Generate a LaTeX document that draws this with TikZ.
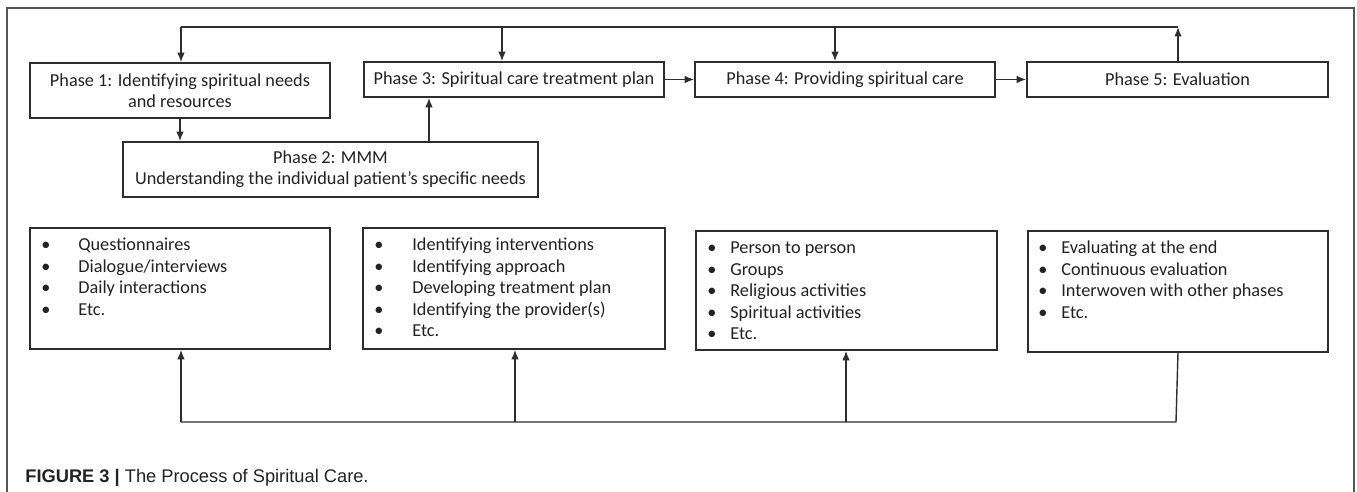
\documentclass[tikz,border=0pt]{standalone}
\usepackage{fontspec}
\setmainfont{Carlito}
\newfontfamily\capfont{Liberation Sans}
\usetikzlibrary{arrows.meta}
\definecolor{lc}{HTML}{2E2E2E}
\definecolor{tc}{HTML}{222222}
\definecolor{fc}{HTML}{555555}
\tikzset{
  phbox/.style={draw=lc, line width=0.9pt, inner sep=0pt, align=center, text=tc,
    font=\fontsize{10.4}{12.2}\selectfont},
  lbox/.style={draw=lc, line width=0.9pt, inner sep=0pt},
  ltext/.style={anchor=north west, inner sep=0pt, align=left, text=tc,
    font=\fontsize{10.4}{12.3}\selectfont},
  conn/.style={draw=lc, line width=0.8pt},
  arr/.style={conn, -{Latex[length=1.9mm,width=1.5mm]}},
}
\newcommand{\itm}[2]{\strut\makebox[#1][l]{\textbullet}#2}
\begin{document}
\begin{tikzpicture}[x=0.02cm, y=-0.02cm]
\useasboundingbox (0,0) rectangle (1357,492);
% frame
\draw[fc, line width=0.7pt] (7,492) -- (7,8) -- (1354,8) -- (1354,492);

% phase boxes
\node[phbox, minimum width=6cm, minimum height=1.1cm] (P1) at (180,90.5)
  {Phase 1: Identifying spiritual needs\\and resources};
\node[phbox, minimum width=6cm, minimum height=0.7cm] (P3) at (514,79.5)
  {Phase 3: Spiritual care treatment plan};
\node[phbox, minimum width=8.3cm, minimum height=1.1cm] (P2) at (330.5,169.5)
  {Phase 2: MMM\\Understanding the individual patient’s specific needs};
\node[phbox, minimum width=6cm, minimum height=0.7cm] (P4) at (845,79.5)
  {Phase 4: Providing spiritual care};
\node[phbox, minimum width=6.02cm, minimum height=0.7cm] (P5) at (1177.5,79.5)
  {Phase 5: Evaluation};

% list boxes
\node[lbox, minimum width=6cm, minimum height=2.42cm] (B1) at (180,288.5) {};
\node[lbox, minimum width=6.04cm, minimum height=2.42cm] (B2) at (514,288.5) {};
\node[lbox, minimum width=6.02cm, minimum height=2.38cm] (B3) at (846.5,290.5) {};
\node[lbox, minimum width=6cm, minimum height=2.42cm] (B4) at (1178,291.5) {};

\node[ltext] (T1) at (41,235) {\itm{0.74cm}{Questionnaires}\\\itm{0.74cm}{Dialogue/interviews}\\\itm{0.74cm}{Daily interactions}\\\itm{0.74cm}{Etc.}};
\node[ltext] (T2) at (374,235) {\itm{0.76cm}{Identifying interventions}\\\itm{0.76cm}{Identifying approach}\\\itm{0.76cm}{Developing treatment plan}\\\itm{0.76cm}{Identifying the provider(s)}\\\itm{0.76cm}{Etc.}};
\node[ltext] (T3) at (707,238) {\itm{0.46cm}{Person to person}\\\itm{0.46cm}{Groups}\\\itm{0.46cm}{Religious activities}\\\itm{0.46cm}{Spiritual activities}\\\itm{0.46cm}{Etc.}};
\node[ltext] (T4) at (1038,238) {\itm{0.46cm}{Evaluating at the end}\\\itm{0.46cm}{Continuous evaluation}\\\itm{0.46cm}{Interwoven with other phases}\\\itm{0.46cm}{Etc.}};

% top connectors
\coordinate (t1) at (181,27);
\coordinate (t3) at (502,27);
\coordinate (t4) at (835,27);
\coordinate (t5) at (1178,27);
\draw[arr] (P5.north -| t5) -- (t5);
\draw[conn] (t5) -- (t1);
\draw[arr] (t1) -- (t1 |- P1.north);
\draw[arr] (t3) -- (t3 |- P3.north);
\draw[arr] (t4) -- (t4 |- P4.north);
\draw[arr] (P1.south) -- (P1.south |- P2.north);
\coordinate (c23) at (429,0);
\draw[arr] (c23 |- P2.north) -- (c23 |- P3.south);
\draw[arr] (P3.east) -- (P4.west);
\draw[arr] (P4.east) -- (P5.west);

% bottom connectors
\coordinate (b1) at (181,422);
\coordinate (b2) at (515,422);
\coordinate (b3) at (846,422);
\coordinate (b4) at (1176,422);
\draw[conn] (B4.south) -- (b4) -- (b1);
\draw[arr] (b1) -- (b1 |- B1.south);
\draw[arr] (b2) -- (b2 |- B2.south);
\draw[arr] (b3) -- (b3 |- B3.south);

% caption
\node[anchor=base west, inner sep=0pt, text=tc, font=\capfont\fontsize{10.4}{12}\selectfont] (cap) at (25,483)
  {\textbf{FIGURE 3 |} The Process of Spiritual Care.};
\end{tikzpicture}
\end{document}
